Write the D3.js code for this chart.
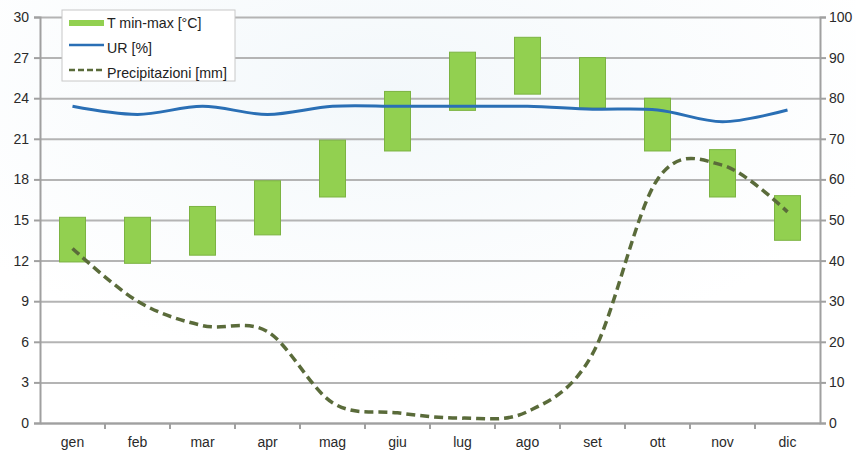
<!DOCTYPE html>
<meta charset="utf-8">
<style>
body { margin: 0; background: #fff; }
svg { font-family: "Liberation Sans", Arial, sans-serif; }
.tick text { fill: #2a2a2a; font-size: 14px; }
</style>
<body>
<script src="https://d3js.org/d3.v7.min.js"></script>
<script>

var months = ["gen", "feb", "mar", "apr", "mag", "giu", "lug", "ago", "set", "ott", "nov", "dic"];
var tMin = [11.9, 11.8, 12.4, 13.9, 16.7, 20.1, 23.1, 24.3, 23.3, 20.1, 16.7, 13.5];
var tMax = [15.2, 15.2, 16.0, 17.9, 20.9, 24.5, 27.4, 28.5, 27.0, 24.0, 20.2, 16.8];
var ur = [78, 76, 78, 76, 78, 78, 78, 78, 77.3, 77.1, 74.2, 77.1];
var rain = [43, 30, 24, 22.5, 5, 2.5, 1.2, 2.8, 17, 60, 63.5, 52];
var tTicks = [0, 3, 6, 9, 12, 15, 18, 21, 24, 27, 30];
var rTicks = [0, 10, 20, 30, 40, 50, 60, 70, 80, 90, 100];

var width = 856,
    height = 452,
    plotL = 40, plotR = 820, plotT = 17, plotB = 423;

var svg = d3.select("body").append("svg")
    .attr("width", width)
    .attr("height", height);

// faint backdrop tint
var defs = svg.append("defs");
var rg = defs.append("radialGradient").attr("id", "bg").attr("cx", "45%").attr("cy", "20%").attr("r", "60%");
rg.append("stop").attr("offset", "0%").attr("stop-color", "#f3f8fb");
rg.append("stop").attr("offset", "100%").attr("stop-color", "#ffffff");
svg.append("rect").attr("width", width).attr("height", height).attr("fill", "url(#bg)");

var x = d3.scaleBand().domain(months).range([plotL, plotR]);
var yT = d3.scaleLinear().domain([0, 30]).range([plotB, plotT]);
var yR = d3.scaleLinear().domain([0, 100]).range([plotB, plotT]);

// gridlines
svg.append("g")
    .attr("transform", "translate(" + plotL + ",0)")
    .call(d3.axisLeft(yT).tickValues(tTicks).tickSize(-(plotR - plotL)).tickFormat(""))
    .call(function(g) {
      g.select(".domain").remove();
      g.selectAll("line").attr("stroke", "#b4b4b4").attr("stroke-width", 2);
    });

// left axis
svg.append("g")
    .attr("transform", "translate(" + plotL + ",0)")
    .call(d3.axisLeft(yT).tickValues(tTicks).tickSize(6).tickPadding(5))
    .call(function(g) {
      g.select(".domain").attr("stroke", "#a0a0a0").attr("stroke-width", 2);
      g.selectAll("line").attr("stroke", "#a0a0a0").attr("stroke-width", 2);
    });

// right axis
svg.append("g")
    .attr("transform", "translate(" + plotR + ",0)")
    .call(d3.axisRight(yR).tickValues(rTicks).tickSize(6).tickPadding(3))
    .call(function(g) {
      g.select(".domain").attr("stroke", "#a0a0a0").attr("stroke-width", 2);
      g.selectAll("line").attr("stroke", "#a0a0a0").attr("stroke-width", 2);
    });

// bottom axis
var xa = svg.append("g")
    .attr("transform", "translate(0," + plotB + ")")
    .call(d3.axisBottom(x).tickSize(0).tickPadding(14))
    .call(function(g) {
      g.select(".domain").attr("stroke", "#a0a0a0").attr("stroke-width", 2);
    });
xa.selectAll(".sep")
    .data(months.slice(1))
  .enter().append("line")
    .attr("x1", function(d) { return x(d); })
    .attr("x2", function(d) { return x(d); })
    .attr("y1", 0).attr("y2", 6)
    .attr("stroke", "#a0a0a0").attr("stroke-width", 2);

// floating temperature bars
var bw = x.bandwidth() * 0.4;
svg.append("g").selectAll("rect")
    .data(months)
  .enter().append("rect")
    .attr("x", function(d) { return x(d) + (x.bandwidth() - bw) / 2; })
    .attr("y", function(d, i) { return yT(tMax[i]); })
    .attr("width", bw)
    .attr("height", function(d, i) { return yT(tMin[i]) - yT(tMax[i]); })
    .attr("fill", "#92d050")
    .attr("stroke", "#7cb342")
    .attr("stroke-width", 1);

var cx = function(i) { return x(months[i]) + x.bandwidth() / 2; };

var smooth = d3.line()
    .x(function(d, i) { return cx(i); })
    .y(function(d) { return yR(d); })
    .curve(d3.curveCardinal.tension(0));

svg.append("path")
    .datum(ur)
    .attr("d", smooth)
    .attr("fill", "none")
    .attr("stroke", "#2a6fb5")
    .attr("stroke-width", 3);

svg.append("path")
    .datum(rain)
    .attr("d", smooth)
    .attr("fill", "none")
    .attr("stroke", "#5a6b3a")
    .attr("stroke-width", 3.5)
    .attr("stroke-dasharray", "9,5");

// legend
var lg = svg.append("g").attr("transform", "translate(62,10)");
lg.append("rect")
    .attr("width", 173).attr("height", 71)
    .attr("fill", "#fff").attr("stroke", "#c8c8c8").attr("stroke-width", 1);
lg.append("rect").attr("x", 7).attr("y", 10).attr("width", 35).attr("height", 6).attr("fill", "#92d050");
lg.append("line").attr("x1", 7).attr("x2", 42).attr("y1", 35).attr("y2", 35)
    .attr("stroke", "#2a6fb5").attr("stroke-width", 2.5);
lg.append("line").attr("x1", 7).attr("x2", 42).attr("y1", 60).attr("y2", 60)
    .attr("stroke", "#5a6b3a").attr("stroke-width", 2.5).attr("stroke-dasharray", "6,3");
var legendText = ["T min-max [°C]", "UR [%]", "Precipitazioni [mm]"];
lg.selectAll("text.lab")
    .data(legendText)
  .enter().append("text")
    .attr("class", "lab")
    .attr("x", 45)
    .attr("y", function(d, i) { return 13 + i * 25; })
    .attr("dy", "0.35em")
    .attr("font-size", 14.2)
    .attr("fill", "#222")
    .text(function(d) { return d; });

</script>
